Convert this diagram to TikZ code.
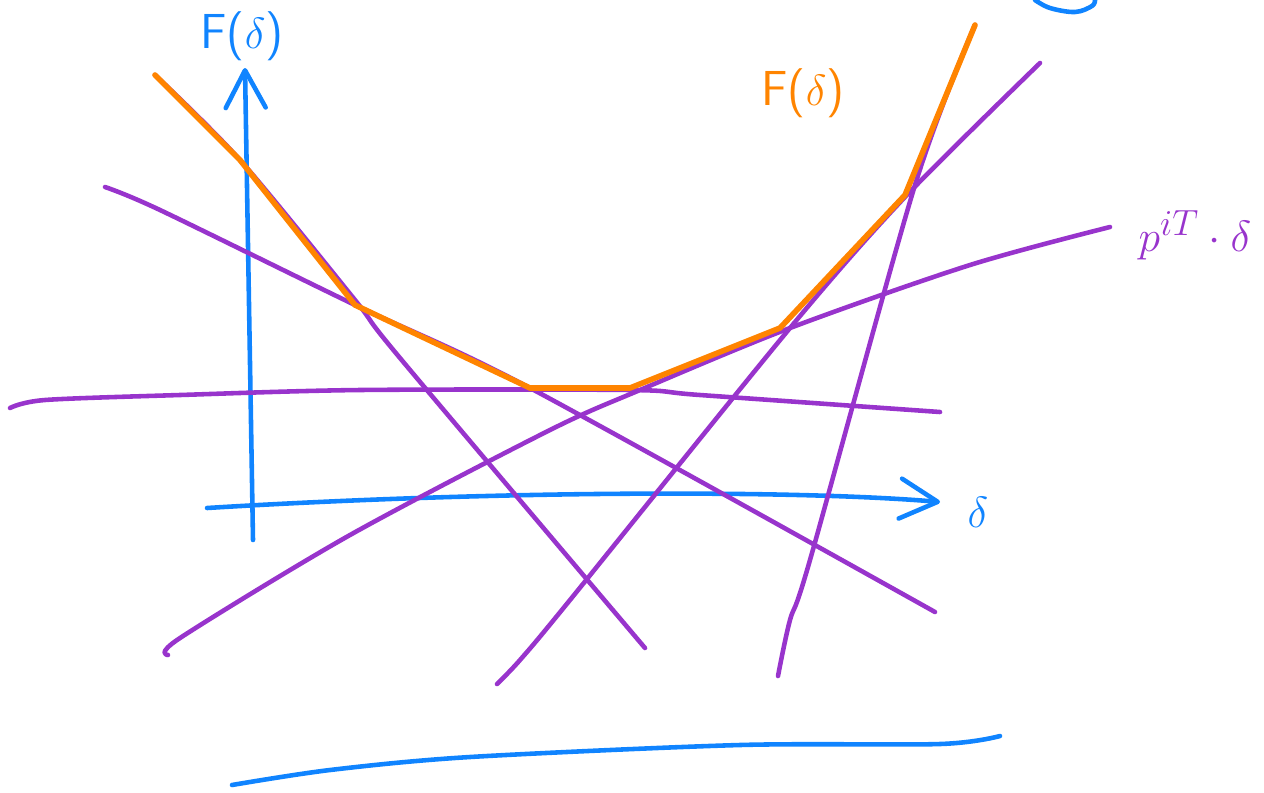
\documentclass[tikz,border=0pt]{standalone}
\usepackage{tikz}
\usetikzlibrary{arrows.meta}
\definecolor{penpurple}{RGB}{152,52,204}
\definecolor{penblue}{RGB}{16,132,255}
\definecolor{penorange}{RGB}{255,132,0}

\begin{document}
\begin{tikzpicture}[x=0.02cm, y=-0.02cm,
  ink/.style={line width=2.6pt, line cap=round, line join=round},
  cut/.style={ink, draw=penpurple},
  axis/.style={ink, draw=penblue, -{Straight Barb[length=0.75cm,width=0.8cm,round]}},
  envelope/.style={line width=3.2pt, draw=penorange, line cap=round, line join=round},
  scrawl/.style={font=\sffamily\fontsize{28}{32}\selectfont}
]
\useasboundingbox (0,0) rectangle (1264,792);

% axes
\coordinate (origy) at (253,540);
\coordinate (topy) at (245,68);
\coordinate (origx) at (207,508);
\coordinate (endx) at (940,502);
\draw[axis] (origy) -- (topy);
\draw[axis] (origx) .. controls (500,490) and (800,490) .. (endx);
\node[scrawl, text=penblue] (ylabel) at (242,36) {F($\delta$)};
\node[scrawl, text=penblue] (xlabel) at (978,512) {$\delta$};

% the cutting planes
\draw[cut] plot[smooth, tension=0.5] coordinates {(155,75) (240,160) (355,300) (400,358) (645,648)};
\draw[cut] plot[smooth, tension=0.5] coordinates {(105,187) (160,210) (355,305) (530,388) (935,612)};
\draw[cut] plot[smooth, tension=0.5] coordinates {(10,408) (45,400) (180,395) (360,390) (630,390) (700,395) (940,412)};
\draw[cut] plot[smooth, tension=0.5] coordinates {(168,655) (180,638) (350,535) (550,430) (640,390) (790,328) (970,265) (1110,227)};
\draw[cut] plot[smooth, tension=0.5] coordinates {(497,684) (520,660) (570,600) (790,328) (905,197) (1040,63)};
\draw[cut] plot[smooth, tension=0.5] coordinates {(778,676) (790,620) (810,560) (915,185) (975,25)};
\node[scrawl, text=penpurple] (cutlabel) at (1195,235) {$p^{iT}\cdot\delta$};

% lower envelope
\draw[envelope] (155,75) -- (240,160) -- (355,305) -- (530,388) -- (630,388) -- (780,328) -- (905,195) -- (975,25);
\node[scrawl, text=penorange] (flabel) at (803,93) {F($\delta$)};

% strokes at the edges
\draw[ink, draw=penblue] plot[smooth, tension=0.5] coordinates {(232,785) (330,770) (470,757) (740,745) (940,744) (1000,736)};
\draw[ink, draw=penblue] plot[smooth, tension=0.6] coordinates {(1035,0) (1050,8) (1075,12) (1092,6) (1095,0)};
\end{tikzpicture}
\end{document}
